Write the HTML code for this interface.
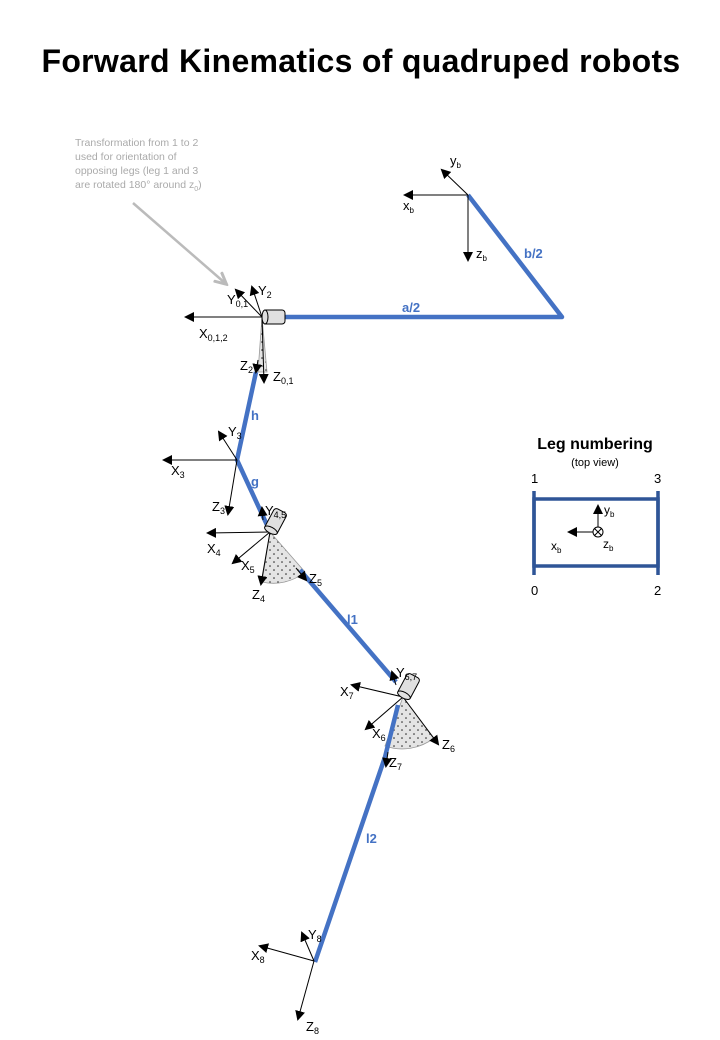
<!DOCTYPE html>
<html><head><meta charset="utf-8"><style>
html,body{margin:0;padding:0;background:#fff;width:720px;height:1040px;overflow:hidden}
svg{display:block;font-family:"Liberation Sans",sans-serif}
</style></head><body>
<svg width="720" height="1040" viewBox="0 0 720 1040">
<defs>
<marker id="ah" markerWidth="10" markerHeight="10" refX="8" refY="5" orient="auto" markerUnits="userSpaceOnUse"><path d="M0,0 L10,5 L0,10 z" fill="#000"/></marker>
<marker id="ag" markerWidth="14" markerHeight="14" refX="10" refY="7" orient="auto" markerUnits="userSpaceOnUse"><path d="M0,1 L12,7 L0,13" fill="none" stroke="#bbb" stroke-width="3"/></marker>
<pattern id="dots" width="8" height="8" patternUnits="userSpaceOnUse"><rect width="8" height="8" fill="#e4e4e4"/><circle cx="2" cy="2" r="0.8" fill="#222"/><circle cx="6" cy="6" r="0.8" fill="#222"/></pattern>
</defs>

<text x="361" y="72" text-anchor="middle" font-size="32" font-weight="bold" letter-spacing="0.3">Forward Kinematics of quadruped robots</text>

<g fill="#aaa" font-size="10.5">
<text x="75" y="146">Transformation from 1 to 2</text>
<text x="75" y="160">used for orientation of</text>
<text x="75" y="174">opposing legs (leg 1 and 3</text>
<text x="75" y="188">are rotated 180° around z<tspan font-size="7" dy="3">0</tspan><tspan dy="-3">)</tspan></text>
<line x1="133" y1="203" x2="225" y2="283" stroke="#bbb" stroke-width="2.5" marker-end="url(#ag)"/>
</g>

<g stroke="#999" stroke-width="0.8">
<path d="M262,317 L258,372 L267,372 Z" fill="url(#dots)"/>
<path d="M270,532 L262,582 A50,50 0 0 0 305,572 Z" fill="url(#dots)"/>
<path d="M403,697 L385,746 A52,52 0 0 0 434,738 Z" fill="url(#dots)"/>
</g>

<g stroke="#4472C4" stroke-width="4.5" fill="none" stroke-linejoin="round">
<polyline points="280,317 562,317 468,195"/>
<polyline points="256,372 237,460 267,525"/>
<line x1="300" y1="570" x2="396" y2="682"/>
<polyline points="398,705 385,757 315,962"/>
</g>

<g stroke="#000" stroke-width="1">
<line x1="468" y1="195" x2="405" y2="195" marker-end="url(#ah)"/>
<line x1="468" y1="195" x2="442" y2="170" marker-end="url(#ah)"/>
<line x1="468" y1="195" x2="468" y2="260" marker-end="url(#ah)"/>
</g>
<g font-size="13">
<text x="403" y="210">x<tspan font-size="8" dy="3">b</tspan></text>
<text x="450" y="165">y<tspan font-size="8" dy="3">b</tspan></text>
<text x="476" y="258">z<tspan font-size="8" dy="3">b</tspan></text>
</g>

<g stroke="#000" stroke-width="1">
<line x1="262" y1="317" x2="186" y2="317" marker-end="url(#ah)"/>
<line x1="262" y1="317" x2="236" y2="290" marker-end="url(#ah)"/>
<line x1="262" y1="317" x2="252" y2="287" marker-end="url(#ah)"/>
<line x1="262" y1="317" x2="264" y2="382" marker-end="url(#ah)"/>
<line x1="237" y1="460" x2="164" y2="460" marker-end="url(#ah)"/>
<line x1="237" y1="460" x2="219" y2="432" marker-end="url(#ah)"/>
<line x1="237" y1="460" x2="228" y2="514" marker-end="url(#ah)"/>
<line x1="270" y1="532" x2="208" y2="533" marker-end="url(#ah)"/>
<line x1="270" y1="532" x2="233" y2="563" marker-end="url(#ah)"/>
<line x1="270" y1="532" x2="261" y2="584" marker-end="url(#ah)"/>
<line x1="403" y1="697" x2="352" y2="685" marker-end="url(#ah)"/>
<line x1="403" y1="697" x2="366" y2="729" marker-end="url(#ah)"/>
<line x1="403" y1="697" x2="438" y2="744" marker-end="url(#ah)"/>
<line x1="314" y1="961" x2="260" y2="946" marker-end="url(#ah)"/>
<line x1="314" y1="961" x2="302" y2="933" marker-end="url(#ah)"/>
<line x1="314" y1="961" x2="298" y2="1019" marker-end="url(#ah)"/>
</g>
<g>
<line x1="258" y1="360" x2="256" y2="372" stroke="#000" stroke-width="1" marker-end="url(#ah)"/>
<line x1="263" y1="520" x2="262" y2="508" stroke="#000" stroke-width="1" marker-end="url(#ah)"/>
<line x1="296" y1="568" x2="306" y2="580" stroke="#000" stroke-width="1" marker-end="url(#ah)"/>
<line x1="396" y1="685" x2="392" y2="672" stroke="#000" stroke-width="1" marker-end="url(#ah)"/>
<line x1="388" y1="752" x2="386" y2="766" stroke="#000" stroke-width="1" marker-end="url(#ah)"/>
</g>

<g stroke="#000" stroke-width="1" fill="#e0e0e0">
<g transform="translate(263,317)"><rect x="0" y="-7" width="22" height="14" rx="3"/><ellipse cx="2" cy="0" rx="3" ry="7"/></g>
<g transform="translate(270,532) rotate(-62)"><rect x="0" y="-7" width="24" height="14" rx="3"/><ellipse cx="2" cy="0" rx="3" ry="7"/></g>
<g transform="translate(403,697) rotate(-62)"><rect x="0" y="-7" width="24" height="14" rx="3"/><ellipse cx="2" cy="0" rx="3" ry="7"/></g>
</g>

<g font-size="13">
<text x="199" y="338">X<tspan font-size="9" dy="3">0,1,2</tspan></text>
<text x="227" y="304">Y<tspan font-size="9" dy="3">0,1</tspan></text>
<text x="258" y="295">Y<tspan font-size="9" dy="3">2</tspan></text>
<text x="240" y="370">Z<tspan font-size="9" dy="3">2</tspan></text>
<text x="273" y="381">Z<tspan font-size="9" dy="3">0,1</tspan></text>
<text x="171" y="475">X<tspan font-size="9" dy="3">3</tspan></text>
<text x="228" y="436">Y<tspan font-size="9" dy="3">3</tspan></text>
<text x="212" y="511">Z<tspan font-size="9" dy="3">3</tspan></text>
<text x="265" y="515">Y<tspan font-size="9" dy="3">4,5</tspan></text>
<text x="207" y="553">X<tspan font-size="9" dy="3">4</tspan></text>
<text x="241" y="570">X<tspan font-size="9" dy="3">5</tspan></text>
<text x="252" y="599">Z<tspan font-size="9" dy="3">4</tspan></text>
<text x="309" y="583">Z<tspan font-size="9" dy="3">5</tspan></text>
<text x="396" y="677">Y<tspan font-size="9" dy="3">6,7</tspan></text>
<text x="340" y="696">X<tspan font-size="9" dy="3">7</tspan></text>
<text x="372" y="738">X<tspan font-size="9" dy="3">6</tspan></text>
<text x="442" y="749">Z<tspan font-size="9" dy="3">6</tspan></text>
<text x="389" y="767">Z<tspan font-size="9" dy="3">7</tspan></text>
<text x="251" y="960">X<tspan font-size="9" dy="3">8</tspan></text>
<text x="308" y="939">Y<tspan font-size="9" dy="3">8</tspan></text>
<text x="306" y="1031">Z<tspan font-size="9" dy="3">8</tspan></text>
</g>

<g font-size="13" font-weight="bold" fill="#4472C4">
<text x="402" y="312">a/2</text>
<text x="524" y="258">b/2</text>
<text x="251" y="420">h</text>
<text x="251" y="486">g</text>
<text x="347" y="624">l1</text>
<text x="366" y="843">l2</text>
</g>

<g>
<text x="595" y="449" text-anchor="middle" font-size="16" font-weight="bold">Leg numbering</text>
<text x="595" y="466" text-anchor="middle" font-size="11">(top view)</text>
<rect x="534" y="499" width="124" height="67" fill="none" stroke="#2F5597" stroke-width="3.5"/>
<line x1="534" y1="491" x2="534" y2="575" stroke="#2F5597" stroke-width="3.5"/>
<line x1="658" y1="491" x2="658" y2="575" stroke="#2F5597" stroke-width="3.5"/>
<g font-size="13"><text x="531" y="483">1</text><text x="654" y="483">3</text><text x="531" y="595">0</text><text x="654" y="595">2</text></g>
<line x1="598" y1="532" x2="598" y2="506" stroke="#000" marker-end="url(#ah)"/>
<line x1="593" y1="532" x2="569" y2="532" stroke="#000" marker-end="url(#ah)"/>
<circle cx="598" cy="532" r="5" fill="#fff" stroke="#000"/>
<path d="M594.5,528.5 L601.5,535.5 M601.5,528.5 L594.5,535.5" stroke="#000"/>
<g font-size="12"><text x="604" y="514">y<tspan font-size="8" dy="3">b</tspan></text><text x="551" y="550">x<tspan font-size="8" dy="3">b</tspan></text><text x="603" y="548">z<tspan font-size="8" dy="3">b</tspan></text></g>
</g>
</svg>
</body></html>
